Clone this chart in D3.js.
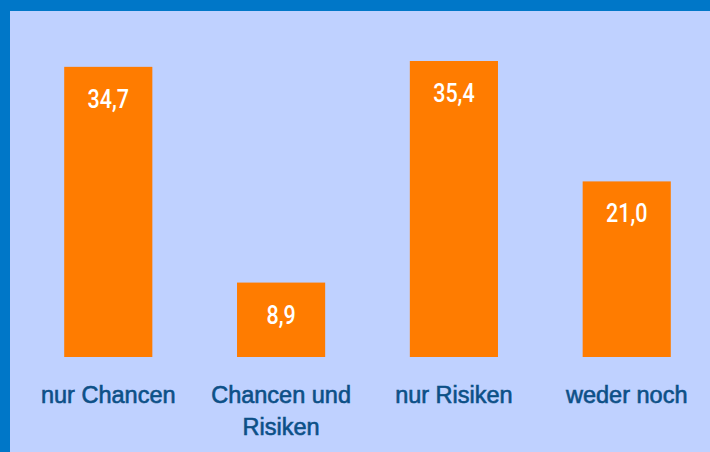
<!DOCTYPE html>
<html>
<head>
<meta charset="utf-8">
<script src="https://cdn.jsdelivr.net/npm/d3@7"></script>
<style>
  html, body { margin: 0; padding: 0; background: #0077c8; }
  svg { display: block; }
</style>
</head>
<body>
<svg id="chart"></svg>
<script>
const categories = ["nur Chancen", "Chancen und|Risiken", "nur Risiken", "weder noch"];
const values = [34.7, 8.9, 35.4, 21.0];

const width = 710, height = 452;
const baseY = 357;

const svg = d3.select("#chart")
    .attr("width", width)
    .attr("height", height);

// blue frame at top and left, light panel behind
svg.append("rect")
    .attr("width", width).attr("height", height)
    .attr("fill", "#0077c8");
svg.append("rect")
    .attr("x", 10).attr("y", 11)
    .attr("width", width - 10).attr("height", height - 11)
    .attr("fill", "#bfd1ff");

const x = d3.scaleBand()
    .domain(categories)
    .range([21, 714])
    .paddingInner(0.49)
    .paddingOuter(0.25);

const y = d3.scaleLinear()
    .domain([0, 35.4])
    .range([baseY, 61]);

const fmt = v => d3.format(".1f")(v).replace(".", ",");

const bar = svg.append("g")
    .selectAll("g")
    .data(values.map((v, i) => ({cat: categories[i], v})))
    .join("g");

bar.append("rect")
    .attr("x", d => x(d.cat))
    .attr("y", d => y(d.v))
    .attr("width", x.bandwidth())
    .attr("height", d => baseY - y(d.v))
    .attr("fill", "#ff7c00");

// narrow the value labels a bit, the original face is condensed
bar.append("text")
    .attr("transform", d => `translate(${x(d.cat) + x.bandwidth() / 2},${y(d.v) + 41}) scale(0.86,1)`)
    .attr("text-anchor", "middle")
    .attr("fill", "#fff")
    .style("font-family", "Roboto, sans-serif")
    .style("font-size", "25px")
    .style("font-weight", 500)
    .text(d => fmt(d.v));

// category labels, "|" marks a line break
const lab = svg.append("g")
    .selectAll("text")
    .data(categories)
    .join("text")
    .attr("x", d => x(d) + x.bandwidth() / 2)
    .attr("y", 403)
    .attr("text-anchor", "middle")
    .attr("fill", "#0c5087")
    .attr("stroke", "#0c5087")
    .attr("stroke-width", 0.6)
    .style("font-family", "'Liberation Sans', Arial, sans-serif")
    .style("font-size", "23.5px");

lab.selectAll("tspan")
    .data(d => d.split("|"))
    .join("tspan")
    .attr("x", function() { return this.parentNode.getAttribute("x"); })
    .attr("dy", (d, i) => i ? 32 : 0)
    .text(d => d);
</script>
</body>
</html>
